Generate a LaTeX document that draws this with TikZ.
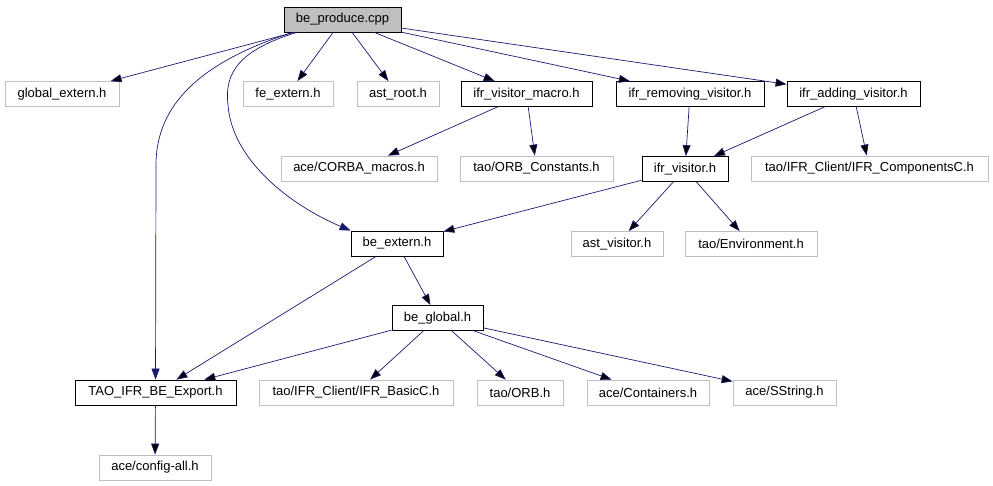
\documentclass[tikz,border=0pt]{standalone}
\usepackage{fontspec}
\setmainfont{Liberation Sans}
\usetikzlibrary{shapes, arrows.meta, positioning}
\definecolor{edgeblue}{HTML}{191970}
\definecolor{boxgray}{HTML}{BFBFBF}
\tikzstyle{incl} = [draw, rectangle, line width=0.8pt, minimum height=25, inner sep=0pt, font=\fontsize{13}{15}\selectfont]
\tikzstyle{extl} = [incl, draw=boxgray]
\tikzstyle{srcf} = [incl, fill=boxgray]
\tikzstyle{dep}  = [draw=edgeblue, line width=0.7pt, -{Triangle[length=11pt, width=8pt]}]

\begin{document}
\begin{tikzpicture}[x=1pt, y=-1pt]
\useasboundingbox (0,0) rectangle (993,485);

% nodes
\node [srcf, minimum width=117] at ( 342.5 ,  19.5 ) (produce) {be\_produce.cpp};
\node [extl, minimum width=114] at (  62   ,  94   ) (gext)    {global\_extern.h};
\node [extl, minimum width=90]  at ( 288   ,  94   ) (fext)    {fe\_extern.h};
\node [extl, minimum width=82]  at ( 398   ,  94   ) (aroot)   {ast\_root.h};
\node [incl, minimum width=131] at ( 526.5 ,  94   ) (vmacro)  {ifr\_visitor\_macro.h};
\node [incl, minimum width=148] at ( 690   ,  94   ) (vremove) {ifr\_removing\_visitor.h};
\node [incl, minimum width=133] at ( 853.5 ,  94   ) (vadd)    {ifr\_adding\_visitor.h};
\node [extl, minimum width=156] at ( 359   , 168.5 ) (cmacros) {ace/CORBA\_macros.h};
\node [extl, minimum width=153] at ( 536.5 , 168.5 ) (orbconst){tao/ORB\_Constants.h};
\node [incl, minimum width=86]  at ( 685   , 169   ) (visitor) {ifr\_visitor.h};
\node [extl, minimum width=237] at ( 869.5 , 168.5 ) (compc)   {tao/IFR\_Client/IFR\_ComponentsC.h};
\node [incl, minimum width=92]  at ( 397   , 243.5 ) (bext)    {be\_extern.h};
\node [extl, minimum width=92]  at ( 617   , 244   ) (avisit)  {ast\_visitor.h};
\node [extl, minimum width=132] at ( 751   , 244   ) (environ) {tao/Environment.h};
\node [incl, minimum width=91]  at ( 437.5 , 318   ) (bglobal) {be\_global.h};
\node [incl, minimum width=161] at ( 155.5 , 392.5 ) (export)  {TAO\_IFR\_BE\_Export.h};
\node [extl, minimum width=194] at ( 356   , 392.5 ) (basicc)  {tao/IFR\_Client/IFR\_BasicC.h};
\node [extl, minimum width=86]  at ( 520   , 392.5 ) (orb)     {tao/ORB.h};
\node [extl, minimum width=122] at ( 648   , 392.5 ) (contain) {ace/Containers.h};
\node [extl, minimum width=103] at ( 784.5 , 392.5 ) (sstring) {ace/SString.h};
\node [extl, minimum width=112] at ( 155   , 467.5 ) (config)  {ace/config-all.h};

%  edges
\path [dep]
  (produce) edge (gext)
  (produce) edge (fext)
  (produce) edge (aroot)
  (produce) edge (vmacro)
  (produce) edge (vremove)
  (produce) edge (vadd)

  (vmacro)  edge (cmacros)
  (vmacro)  edge (orbconst)
  (vremove) edge (visitor)
  (vadd)    edge (visitor)
  (vadd)    edge (compc)

  (visitor) edge (bext)
  (visitor) edge (avisit)
  (visitor) edge (environ)

  (bext)    edge (export)
  (bext)    edge (bglobal)

  (bglobal) edge (export)
  (bglobal) edge (basicc)
  (bglobal) edge (orb)
  (bglobal) edge (contain)
  (bglobal) edge (sstring)

  (export)  edge (config);

% the two long curves
\draw [dep] ([xshift=9]produce.south west) .. controls (200,62) and (156,105) .. (156,165) -- (export);
\draw [dep] ([xshift=13]produce.south west) .. controls (240,50) and (224,72) .. (228,105)
            .. controls (232,160) and (290,205) .. (bext.north west);

\end{tikzpicture}
\end{document}
